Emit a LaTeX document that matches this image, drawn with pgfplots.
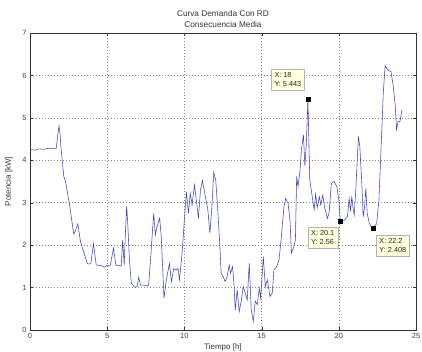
\documentclass[border=0pt]{standalone}
\usepackage{pgfplots}
\pgfplotsset{compat=1.18}
\usepackage{fontspec}
\setmainfont{Liberation Sans}
\definecolor{mline}{rgb}{0.25,0.25,0.74}
\definecolor{tipfill}{rgb}{1,1,0.87}
\begin{document}
\begin{tikzpicture}[x=1bp,y=1bp]
\begin{axis}[
  scale only axis,
  width=386bp, height=297bp,
  xmin=0, xmax=25, ymin=0, ymax=7,
  xtick={0,5,...,25}, ytick={0,1,...,7},
  tick align=inside,
  major tick length=3bp,
  grid=major,
  major grid style={dash pattern=on 0.8bp off 2.2bp, black!50, line width=0.45pt},
  axis line style={black!80, line width=0.5pt},
  tick style={black!80},
  /pgf/number format/assume math mode=true,
  ticklabel style={font=\fontsize{7.5}{8.5}\selectfont, text=black!75},
  title style={font=\fontsize{8.3}{10.5}\selectfont, text=black!80, align=center, yshift=-4bp},
  title={Curva Demanda Con RD\\Consecuencia Media},
  xlabel={Tiempo [h]},
  ylabel={Potencia [kW]},
  label style={font=\fontsize{8}{9}\selectfont, text=black!80},
  xlabel style={yshift=2bp},
  ylabel style={yshift=3bp},
  clip=false,
]
\addplot[mline, line width=0.55pt] coordinates {
(0.0,4.25) (0.3,4.24) (0.6,4.27) (0.9,4.26) (1.2,4.28) (1.5,4.28) (1.7,4.28)
(1.8,4.6) (1.88,4.81) (1.95,4.6) (2.0,4.32) (2.19,3.62) (2.3,3.5) (2.58,2.91)
(2.83,2.26) (2.95,2.35) (3.1,2.5) (3.27,2.08) (3.5,1.81) (3.72,1.56) (3.94,1.56)
(4.11,2.04) (4.29,1.53) (4.6,1.52) (4.8,1.48) (4.96,1.52) (5.19,1.51) (5.41,1.93)
(5.56,1.53) (5.91,1.51) (6.0,2.12) (6.1,1.53) (6.17,2.2) (6.26,2.92) (6.32,2.59)
(6.43,1.73) (6.56,1.1) (6.78,1.01) (6.93,1.02) (7.04,1.24) (7.16,1.06) (7.68,1.05)
(7.79,1.57) (8.01,2.75) (8.12,2.24) (8.23,2.44) (8.4,2.63) (8.5,2.2) (8.68,0.75)
(8.83,1.18) (9.03,1.57) (9.16,1.14) (9.31,1.45) (9.46,1.41) (9.59,1.45) (9.68,1.18)
(9.85,1.81) (10.0,2.6) (10.13,3.26) (10.26,2.75) (10.38,3.22) (10.5,2.95) (10.65,3.42)
(10.78,3.03) (10.91,2.63) (11.04,3.3) (11.17,3.52) (11.36,3.14) (11.52,2.83) (11.65,2.28)
(11.78,2.9) (11.9,3.71) (12.03,3.54) (12.16,2.83) (12.3,1.97) (12.38,1.34) (12.51,1.26)
(12.64,1.14) (12.77,1.26) (12.9,1.53) (12.99,1.34) (13.12,1.49) (13.21,1.1) (13.29,0.47)
(13.42,0.94) (13.55,0.43) (13.68,0.68) (13.81,1.02) (13.94,0.87) (14.07,0.71) (14.2,1.57)
(14.33,0.47) (14.46,0.2) (14.59,0.68) (14.72,0.6) (14.85,0.98) (14.94,0.75) (15.11,1.73)
(15.24,1.02) (15.37,1.18) (15.54,0.79) (15.69,0.87) (15.8,1.42) (15.97,1.49) (16.13,1.65)
(16.28,2.2) (16.45,2.91) (16.56,3.1) (16.71,2.99) (16.84,2.59) (16.93,1.81) (17.06,1.93)
(17.19,2.12) (17.27,3.62) (17.36,3.38) (17.49,3.77) (17.58,4.25) (17.71,4.6) (17.8,3.87)
(17.9,4.4) (18.0,5.443) (18.12,3.54) (18.25,3.22) (18.4,2.83) (18.5,3.2) (18.6,2.88)
(18.74,3.14) (18.83,2.95) (18.96,3.18) (19.09,2.88) (19.26,2.63) (19.37,2.75) (19.52,3.46)
(19.7,3.5) (19.87,3.38) (20.0,3.07) (20.1,2.56) (20.34,2.58) (20.56,2.67) (20.67,3.1)
(20.76,2.8) (20.84,3.15) (20.93,2.85) (21.0,2.71) (21.1,3.3) (21.27,4.56) (21.36,4.33)
(21.49,3.46) (21.58,2.67) (21.67,2.9) (21.75,3.34) (21.84,2.75) (21.97,2.52) (22.1,2.44)
(22.2,2.408) (22.45,2.5) (22.6,3.07) (22.75,4.4) (22.88,5.58) (23.0,6.23) (23.16,6.13)
(23.38,6.09) (23.53,5.74) (23.66,5.27) (23.74,4.72) (23.83,4.91) (23.96,4.91) (24.09,5.19)
};
\addplot[only marks, mark=square*, mark size=2bp, black] coordinates {
(18,5.443) (20.1,2.56) (22.2,2.408)
};
\tikzset{tip/.style={fill=tipfill, draw=black!30, line width=0.4pt, align=left,
  font=\fontsize{7.3}{9}\selectfont, inner sep=3.5bp, text=black!85}}
\node[tip] at (axis cs:16.7,5.9) {X: 18\\Y: 5.443};
\node[tip] at (axis cs:18.96,2.17) {X: 20.1\\Y: 2.56};
\node[tip] at (axis cs:23.5,1.99) {X: 22.2\\Y: 2.408};
\end{axis}
\pgfresetboundingbox
\path ([shift={(-30bp,-22bp)}]current axis.south west) rectangle ([shift={(6bp,33bp)}]current axis.north east);
\end{tikzpicture}
\end{document}
